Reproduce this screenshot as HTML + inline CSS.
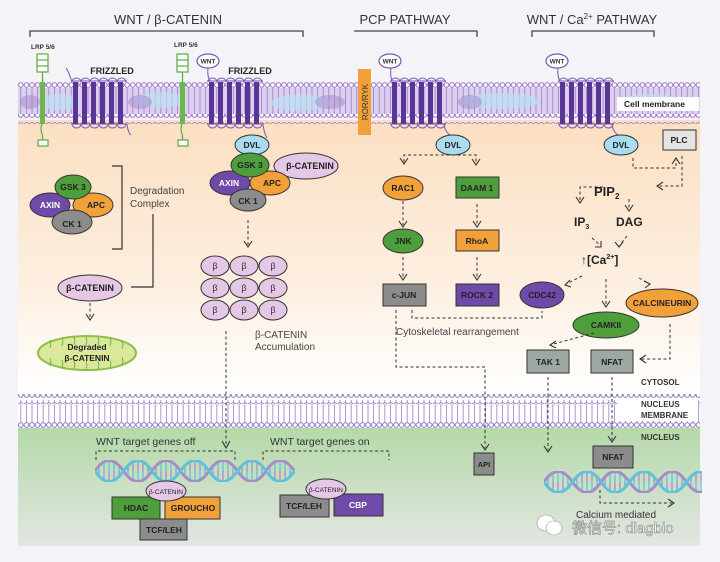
<!DOCTYPE html>
<html><head><meta charset="utf-8"><style>
html,body{margin:0;padding:0;background:#f4f4f8;}
svg{display:block;font-family:"Liberation Sans","Noto Sans CJK SC",sans-serif;}
</style></head><body>
<svg width="720" height="562" viewBox="0 0 720 562" xmlns="http://www.w3.org/2000/svg">
<defs>
<linearGradient id="cyto" x1="0" y1="0" x2="0" y2="1">
<stop offset="0" stop-color="#fbdfc2"/><stop offset="0.6" stop-color="#fdefe0"/><stop offset="1" stop-color="#ffffff"/></linearGradient>
<linearGradient id="nuc" x1="0" y1="0" x2="0" y2="1">
<stop offset="0" stop-color="#b5d9a8"/><stop offset="1" stop-color="#e2e6e2"/></linearGradient>
<pattern id="heads" x="18" y="0" width="5.6" height="10" patternUnits="userSpaceOnUse">
<circle cx="2.8" cy="5" r="2.3" fill="#fff" stroke="#8a64c0" stroke-width="0.9"/></pattern>
<pattern id="tails" x="18" y="0" width="5.6" height="10" patternUnits="userSpaceOnUse">
<line x1="2.8" y1="0" x2="2.8" y2="10" stroke="#9a7ac8" stroke-width="0.8"/></pattern>
<pattern id="dna" x="0" y="0" width="57" height="22" patternUnits="userSpaceOnUse">
<g stroke-width="1.3">
<line x1="4" y1="6.5" x2="4" y2="11" stroke="#5bc4dc"/><line x1="4" y1="11" x2="4" y2="15.5" stroke="#a88cc8"/>
<line x1="9" y1="2.5" x2="9" y2="11" stroke="#5bc4dc"/><line x1="9" y1="11" x2="9" y2="19.5" stroke="#a88cc8"/>
<line x1="14" y1="1" x2="14" y2="11" stroke="#5bc4dc"/><line x1="14" y1="11" x2="14" y2="21" stroke="#a88cc8"/>
<line x1="19" y1="2.5" x2="19" y2="11" stroke="#5bc4dc"/><line x1="19" y1="11" x2="19" y2="19.5" stroke="#a88cc8"/>
<line x1="24" y1="6.5" x2="24" y2="11" stroke="#5bc4dc"/><line x1="24" y1="11" x2="24" y2="15.5" stroke="#a88cc8"/>
<line x1="33" y1="6.5" x2="33" y2="11" stroke="#a88cc8"/><line x1="33" y1="11" x2="33" y2="15.5" stroke="#5bc4dc"/>
<line x1="38" y1="2.5" x2="38" y2="11" stroke="#a88cc8"/><line x1="38" y1="11" x2="38" y2="19.5" stroke="#5bc4dc"/>
<line x1="43" y1="1" x2="43" y2="11" stroke="#a88cc8"/><line x1="43" y1="11" x2="43" y2="21" stroke="#5bc4dc"/>
<line x1="48" y1="2.5" x2="48" y2="11" stroke="#a88cc8"/><line x1="48" y1="11" x2="48" y2="19.5" stroke="#5bc4dc"/>
<line x1="53" y1="6.5" x2="53" y2="11" stroke="#a88cc8"/><line x1="53" y1="11" x2="53" y2="15.5" stroke="#5bc4dc"/>
</g>
<path d="M0,11 Q14,-10 28.5,11 T57,11" fill="none" stroke="#a88cc8" stroke-width="3"/>
<path d="M0,11 Q14,32 28.5,11 T57,11" fill="none" stroke="#5bc4dc" stroke-width="3"/>
</pattern>
</defs>

<!-- panels -->
<rect x="18" y="120" width="682" height="272" fill="url(#cyto)"/>
<rect x="18" y="392" width="682" height="36" fill="#fff"/>
<rect x="18" y="428" width="682" height="118" fill="url(#nuc)"/>

<!-- cell membrane -->
<rect x="18" y="88" width="682" height="28" fill="#dcd0ee"/>
<rect x="18" y="88" width="682" height="28" fill="url(#tails)"/>
<g fill="#b9e0f2" opacity="0.7"><ellipse cx="60" cy="102" rx="20" ry="8"/><ellipse cx="160" cy="100" rx="25" ry="8"/><ellipse cx="300" cy="103" rx="30" ry="8"/><ellipse cx="500" cy="101" rx="40" ry="8"/><ellipse cx="650" cy="102" rx="30" ry="8"/></g>
<g fill="#a685cc" opacity="0.5"><ellipse cx="30" cy="102" rx="10" ry="7"/><ellipse cx="140" cy="102" rx="12" ry="7"/><ellipse cx="330" cy="102" rx="15" ry="7"/><ellipse cx="470" cy="102" rx="12" ry="7"/></g>
<rect x="18" y="81" width="682" height="10" fill="url(#heads)"/>
<rect x="18" y="114" width="682" height="10" fill="url(#heads)"/>

<!-- nucleus membrane -->
<rect x="18" y="400" width="682" height="24" fill="url(#tails)"/>
<rect x="18" y="394" width="682" height="10" fill="url(#heads)"/>
<rect x="18" y="420" width="682" height="10" fill="url(#heads)"/>
<rect x="618" y="399" width="80" height="22" fill="#fff"/>

<!-- top labels -->
<g font-size="13" fill="#333" text-anchor="middle">
<text x="168" y="24">WNT / β-CATENIN</text>
<text x="405" y="24">PCP PATHWAY</text>
<text x="592" y="24">WNT / Ca<tspan font-size="8" dy="-5">2+</tspan><tspan dy="5"> PATHWAY</tspan></text>
</g>
<g fill="none" stroke="#444" stroke-width="1.3">
<path d="M30,37 V31 H303 V37"/><path d="M354,31 H477 V37"/><path d="M532,37 V31 H654 V37"/>
</g>

<!-- LRP -->
<g fill="none" stroke="#5aab3e" stroke-width="1.2">
<rect x="37" y="54" width="11" height="18" fill="#fff"/><line x1="37" y1="60" x2="48" y2="60"/><line x1="37" y1="66" x2="48" y2="66"/>
<rect x="177" y="54" width="11" height="18" fill="#fff"/><line x1="177" y1="60" x2="188" y2="60"/><line x1="177" y1="66" x2="188" y2="66"/>
<path d="M42.5,72 V82 M42.5,123 q-3,6 0,12 V140"/><rect x="38" y="140" width="10" height="6" fill="#fff"/>
<path d="M182.5,72 V82 M182.5,123 q-3,6 0,12 V140"/><rect x="178" y="140" width="10" height="6" fill="#fff"/>
</g>
<rect x="40" y="82" width="5" height="42" fill="#6cb84a"/><rect x="180" y="82" width="5" height="42" fill="#6cb84a"/>
<g font-size="6.5" font-weight="bold" fill="#333"><text x="31" y="49">LRP 5/6</text><text x="174" y="47">LRP 5/6</text></g>

<!-- frizzled -->
<g id="fz">
<g fill="none" stroke="#7a55b5" stroke-width="1"><path d="M72,82 a4.5,4 0 0 1 9,0 a4.5,4 0 0 1 9,0 a4.5,4 0 0 1 9,0 a4.5,4 0 0 1 9,0 a4.5,4 0 0 1 9,0 a4.5,4 0 0 1 9,0"/>
<path d="M72,124 a4.5,4 0 0 0 9,0 a4.5,4 0 0 0 9,0 a4.5,4 0 0 0 9,0 a4.5,4 0 0 0 9,0 a4.5,4 0 0 0 9,0 a4.5,4 0 0 0 9,0"/>
<line x1="71" y1="81" x2="127" y2="81"/><line x1="71" y1="124" x2="127" y2="124"/></g>
<g fill="#5a3596"><rect x="73" y="82" width="5" height="42"/><rect x="82" y="82" width="5" height="42"/><rect x="91" y="82" width="5" height="42"/><rect x="100" y="82" width="5" height="42"/><rect x="109" y="82" width="5" height="42"/><rect x="118" y="82" width="5" height="42"/></g>
</g>
<use href="#fz" x="136"/><use href="#fz" x="319"/><use href="#fz" x="487"/>
<g fill="none" stroke="#7a55b5" stroke-width="1">
<path d="M72,82 Q68,70 66,68"/><path d="M127,124 Q128,133 131,135"/>
<path d="M208,68 Q207,76 210,81"/><path d="M263,124 Q264,133 267,138"/>
<path d="M391,68 Q390,76 392,81"/><path d="M444,124 Q445,132 450,135"/>
<path d="M558,68 Q557,76 560,81"/><path d="M612,124 Q613,132 618,135"/>
</g>
<g font-size="9" font-weight="bold" fill="#222" text-anchor="middle"><text x="112" y="74">FRIZZLED</text><text x="250" y="74">FRIZZLED</text></g>
<g fill="#fff" stroke="#7a55b5" stroke-width="1.2"><ellipse cx="208" cy="61" rx="11" ry="7"/><ellipse cx="390" cy="61" rx="11" ry="7"/><ellipse cx="557" cy="61" rx="11" ry="7"/></g>
<g font-size="6.5" font-weight="bold" fill="#333" text-anchor="middle"><text x="208" y="63.5">WNT</text><text x="390" y="63.5">WNT</text><text x="557" y="63.5">WNT</text></g>

<!-- ROR/RYK -->
<rect x="358" y="69" width="13" height="66" fill="#f2a03a"/>
<text transform="translate(368,102) rotate(-90)" font-size="8" fill="#333" text-anchor="middle">ROR/RYK</text>
<rect x="617" y="97" width="82" height="14" fill="#fff"/>
<text x="624" y="107" font-size="8.5" font-weight="bold" fill="#222">Cell membrane</text>

<g stroke="#333" stroke-width="1" font-size="8.5" font-weight="bold" text-anchor="middle">
<ellipse cx="50" cy="205" rx="20" ry="12" fill="#6f4aa8"/><ellipse cx="93" cy="205" rx="20" ry="12" fill="#f2a03a"/>
<ellipse cx="72" cy="222" rx="20" ry="12" fill="#8c8c8c"/><ellipse cx="73" cy="187" rx="18" ry="12" fill="#4f9e3c"/>
<ellipse cx="252" cy="145" rx="17" ry="10" fill="#a8dcee"/>
<ellipse cx="306" cy="166" rx="32" ry="13" fill="#e5c8e6"/>
<ellipse cx="230" cy="183" rx="20" ry="12" fill="#6f4aa8"/><ellipse cx="270" cy="183" rx="20" ry="12" fill="#f2a03a"/>
<ellipse cx="248" cy="200" rx="18" ry="11" fill="#8c8c8c"/><ellipse cx="250" cy="165" rx="19" ry="12" fill="#4f9e3c"/>
<ellipse cx="90" cy="288" rx="32" ry="13" fill="#e5c8e6"/>
<ellipse cx="87" cy="353" rx="49" ry="17" fill="#dbe89a" stroke="#8fbf4a" stroke-width="2"/>
<g fill="#e5c8e6"><ellipse cx="215" cy="266" rx="14" ry="10"/><ellipse cx="244" cy="266" rx="14" ry="10"/><ellipse cx="273" cy="266" rx="14" ry="10"/>
<ellipse cx="215" cy="288" rx="14" ry="10"/><ellipse cx="244" cy="288" rx="14" ry="10"/><ellipse cx="273" cy="288" rx="14" ry="10"/>
<ellipse cx="215" cy="310" rx="14" ry="10"/><ellipse cx="244" cy="310" rx="14" ry="10"/><ellipse cx="273" cy="310" rx="14" ry="10"/></g>
<ellipse cx="453" cy="145" rx="17" ry="10" fill="#a8dcee"/>
<ellipse cx="403" cy="188" rx="20" ry="12" fill="#f2a03a"/>
<rect x="456" y="177" width="43" height="21" fill="#4f9e3c"/>
<ellipse cx="403" cy="241" rx="20" ry="12" fill="#4f9e3c"/>
<rect x="456" y="230" width="43" height="21" fill="#f2a03a"/>
<rect x="383" y="284" width="43" height="22" fill="#8c8c8c"/>
<rect x="456" y="284" width="43" height="22" fill="#6f4aa8"/>
<ellipse cx="542" cy="295" rx="22" ry="13" fill="#6f4aa8"/>
<ellipse cx="621" cy="145" rx="17" ry="10" fill="#a8dcee"/>
<rect x="663" y="130" width="33" height="20" fill="#e4e4e4"/>
<ellipse cx="662" cy="303" rx="36" ry="14" fill="#f2a03a"/>
<ellipse cx="606" cy="325" rx="33" ry="13" fill="#4f9e3c"/>
<rect x="527" y="350" width="42" height="23" fill="#9ea8a2"/>
<rect x="591" y="350" width="42" height="23" fill="#9ea8a2"/>
<rect x="474" y="453" width="20" height="22" fill="#8c8c8c"/>
<rect x="593" y="446" width="40" height="22" fill="#8c8c8c"/>
</g>

<g stroke="#4fb040" stroke-width="0.8" fill="none">
<path d="M50,340 l1,4 -1,4 M62,338 l1,4 -1,4 M74,337 l1,4 -1,4 M86,337 l1,4 -1,4 M98,337 l1,4 -1,4 M110,338 l1,4 -1,4 M122,341 l1,4 -1,4"/>
<path d="M50,358 l1,4 -1,4 M62,360 l1,4 -1,4 M74,361 l1,4 -1,4 M86,361 l1,4 -1,4 M98,361 l1,4 -1,4 M110,360 l1,4 -1,4 M122,357 l1,4 -1,4"/>
</g>

<g font-size="8.5" font-weight="bold" fill="#222" text-anchor="middle">
<text x="73" y="190">GSK 3</text><text x="50" y="208" fill="#fff">AXIN</text><text x="96" y="208">APC</text><text x="72" y="227">CK 1</text>
<text x="252" y="148">DVL</text><text x="250" y="168">GSK 3</text><text x="310" y="169" font-size="9">β-CATENIN</text>
<text x="229" y="186" fill="#fff">AXIN</text><text x="272" y="186">APC</text><text x="248" y="204">CK 1</text>
<text x="90" y="291" font-size="9">β-CATENIN</text>
<text x="87" y="350">Degraded</text><text x="87" y="361">β-CATENIN</text>
<text x="453" y="148">DVL</text><text x="403" y="191">RAC1</text><text x="477" y="191">DAAM 1</text>
<text x="403" y="244">JNK</text><text x="477" y="244">RhoA</text>
<text x="404" y="298">c-JUN</text><text x="477" y="298">ROCK 2</text>
<text x="542" y="298">CDC42</text>
<text x="621" y="148">DVL</text><text x="679" y="143">PLC</text>
<text x="662" y="306">CALCINEURIN</text><text x="606" y="328">CAMKII</text>
<text x="548" y="365">TAK 1</text><text x="612" y="365">NFAT</text>
<text x="484" y="467" font-size="7.5">API</text><text x="613" y="460">NFAT</text>
</g>
<g font-size="9" fill="#333" text-anchor="middle">
<text x="215" y="269">β</text><text x="244" y="269">β</text><text x="273" y="269">β</text>
<text x="215" y="291">β</text><text x="244" y="291">β</text><text x="273" y="291">β</text>
<text x="215" y="313">β</text><text x="244" y="313">β</text><text x="273" y="313">β</text>
</g>

<g fill="none" stroke="#333" stroke-width="1.2">
<path d="M112,166 H122 V249 H112"/><path d="M153,214 V287 H131"/>
</g>
<g font-size="10" fill="#444"><text x="130" y="194">Degradation</text><text x="130" y="207">Complex</text>
<text x="255" y="338">β-CATENIN</text><text x="255" y="350">Accumulation</text>
<text x="396" y="335">Cytoskeletal rearrangement</text></g>

<g fill="none" stroke="#333" stroke-width="1" stroke-dasharray="3,2.5">
<path d="M90,303 V318"/><path d="M248,220 V245"/><path d="M226,331 V446"/>
<path d="M404,162 V155 H476 V163"/><path d="M403,201 V225"/><path d="M477,204 V225"/><path d="M403,257 V278"/><path d="M477,257 V278"/>
<path d="M412,310 V318 H542 V311"/>
<path d="M396,310 V367 H485 V448"/>
<path d="M633,158 V168 H676 V160"/><path d="M682,156 V186 H657"/>
<path d="M603,187 H580 V201"/><path d="M629,199 V209"/>
<path d="M592,238 L600,245"/><path d="M627,236 L620,245"/>
<path d="M582,276 L566,284"/><path d="M606,279 V305"/><path d="M639,278 L648,283"/>
<path d="M670,324 V359 H640"/><path d="M594,333 L550,345"/>
<path d="M548,377 V450"/><path d="M612,377 V440"/>
<path d="M600,490 V503 H672"/>
<path d="M96,460 V451 H235 V460"/><path d="M263,460 V451 H389 V460"/>
</g>
<g fill="none" stroke="#333" stroke-width="1.1">
<path d="M86,314 L90,320 L94,314"/><path d="M244,241 L248,247 L252,241"/><path d="M222,441 L226,448 L230,441"/>
<path d="M400,158 L404,164 L408,158"/><path d="M472,159 L476,165 L480,159"/>
<path d="M399,221 L403,227 L407,221"/><path d="M473,221 L477,227 L481,221"/>
<path d="M399,274 L403,280 L407,274"/><path d="M473,274 L477,280 L481,274"/>
<path d="M672,164 L676,158 L680,164"/><path d="M663,182 L657,186 L663,190"/>
<path d="M576,197 L580,203 L584,197"/><path d="M625,205 L629,211 L633,205"/>
<path d="M595,247 L601,247 L601,241"/><path d="M615,242 L619,247 L623,242"/>
<path d="M570,280 L565,285 L571,287"/><path d="M602,301 L606,307 L610,301"/><path d="M644,281 L650,284 L645,288"/>
<path d="M646,355 L640,359 L646,363"/><path d="M556,341 L550,345 L556,348"/>
<path d="M481,444 L485,450 L489,444"/><path d="M544,446 L548,452 L552,446"/><path d="M608,436 L612,442 L616,436"/>
<path d="M668,499 L674,503 L668,507"/>
</g>

<g font-weight="bold" fill="#222">
<text x="594" y="196" font-size="13">PIP<tspan font-size="8" dy="3">2</tspan></text>
<text x="574" y="226" font-size="12">IP<tspan font-size="7" dy="3">3</tspan></text>
<text x="616" y="226" font-size="12">DAG</text>
<text x="581" y="264" font-size="12">↑[Ca<tspan font-size="7" dy="-5">2+</tspan><tspan dy="5">]</tspan></text>
</g>
<text x="641" y="385" font-size="8" font-weight="bold" fill="#333">CYTOSOL</text>
<g font-size="8" font-weight="bold" fill="#333"><text x="641" y="407">NUCLEUS</text><text x="641" y="418">MEMBRANE</text><text x="641" y="440">NUCLEUS</text></g>

<g font-size="10.5" fill="#333"><text x="96" y="445">WNT target genes off</text><text x="270" y="445">WNT target genes on</text></g>
<g transform="translate(95,460)"><rect x="0" y="0" width="200" height="22" fill="url(#dna)"/></g>
<g transform="translate(544,471)"><rect x="0" y="0" width="158" height="22" fill="url(#dna)"/></g>
<g stroke="#333" stroke-width="1" font-size="8.5" font-weight="bold" text-anchor="middle">
<rect x="140" y="519" width="47" height="21" fill="#8c8c8c"/>
<rect x="112" y="497" width="48" height="22" fill="#4f9e3c"/>
<rect x="165" y="497" width="55" height="22" fill="#f2a03a"/>
<rect x="280" y="495" width="49" height="22" fill="#8c8c8c"/>
<rect x="334" y="494" width="49" height="22" fill="#6f4aa8"/>
<ellipse cx="166" cy="491" rx="20" ry="10" fill="#e5c8e6"/>
<ellipse cx="326" cy="489" rx="20" ry="10" fill="#e5c8e6"/>
</g>
<g font-size="8.5" font-weight="bold" fill="#222" text-anchor="middle">
<text x="136" y="511">HDAC</text><text x="193" y="511">GROUCHO</text><text x="164" y="533">TCF/LEH</text>
<text x="304" y="509">TCF/LEH</text><text x="358" y="508" fill="#fff">CBP</text>
<text x="166" y="494" font-size="6.5" font-weight="normal">β-CATENIN</text><text x="326" y="492" font-size="6.5" font-weight="normal">β-CATENIN</text>
</g>
<text x="576" y="518" font-size="10" fill="#333">Calcium mediated</text>
<g fill="#fff" stroke="#999" stroke-width="0.6"><ellipse cx="546" cy="523" rx="9" ry="8"/><ellipse cx="554" cy="528" rx="8" ry="7"/></g>
<text x="572" y="533" font-size="15" fill="#fff" stroke="#777" stroke-width="0.5">微信号: diagbio</text>
</svg>
</body></html>
